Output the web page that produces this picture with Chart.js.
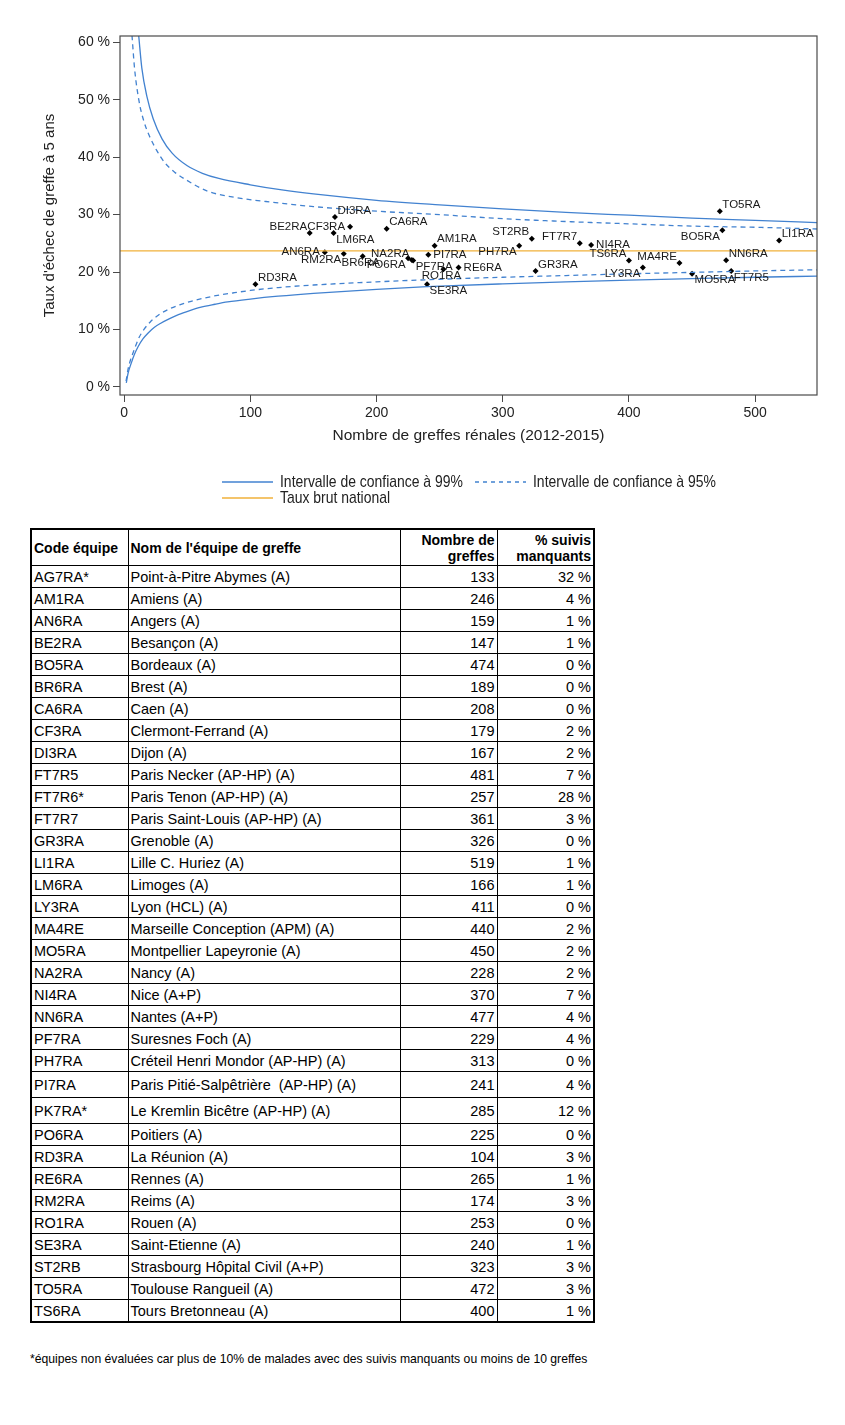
<!DOCTYPE html>
<html lang="fr">
<head>
<meta charset="UTF-8">
<title>Taux d'échec de greffe à 5 ans</title>
<script src="https://cdn.jsdelivr.net/npm/chart.js@4.4.1/dist/chart.umd.min.js"></script>
<style>
  body { margin: 0; background: #fff; font-family: "Liberation Sans", Arial, sans-serif; }
  #graphe { position: absolute; left: 0; top: 0; }
  #tableau { position: absolute; left: 30px; top: 528px; border-collapse: collapse; font-size: 14.5px; color: #000; border: 2px solid #000; }
  #tableau td, #tableau th { border: 1px solid #000; padding: 0 2px 0 2px; height: 21px; line-height: 16px; }
  #tableau th { font-weight: bold; height: 35px; vertical-align: middle; font-size: 14px; }
  #tableau th.g, #tableau td.g { text-align: left; }
  #tableau th.d, #tableau td.d { text-align: right; }
  #tableau td.nom { white-space: pre; }
  #tableau tr.haut td { height: 25px; }
  #note { position: absolute; left: 30px; top: 1352px; font-size: 12.2px; color: #000; }
</style>
</head>
<body>
<canvas id="graphe" width="845" height="515"></canvas>

<table id="tableau">
  <colgroup><col style="width:97px"><col style="width:272px"><col style="width:97px"><col style="width:97px"></colgroup>
  <thead>
    <tr>
      <th class="g">Code équipe</th>
      <th class="g">Nom de l'équipe de greffe</th>
      <th class="d">Nombre de<br>greffes</th>
      <th class="d">% suivis<br>manquants</th>
    </tr>
  </thead>
  <tbody></tbody>
</table>
<div id="note">*équipes non évaluées car plus de 10% de malades avec des suivis manquants ou moins de 10 greffes</div>

<script>
// Tableau des équipes
const teamCodes = ['AG7RA*', 'AM1RA', 'AN6RA', 'BE2RA', 'BO5RA', 'BR6RA', 'CA6RA', 'CF3RA', 'DI3RA', 'FT7R5',
  'FT7R6*', 'FT7R7', 'GR3RA', 'LI1RA', 'LM6RA', 'LY3RA', 'MA4RE', 'MO5RA', 'NA2RA', 'NI4RA',
  'NN6RA', 'PF7RA', 'PH7RA', 'PI7RA', 'PK7RA*', 'PO6RA', 'RD3RA', 'RE6RA', 'RM2RA', 'RO1RA',
  'SE3RA', 'ST2RB', 'TO5RA', 'TS6RA'];
const teamNames = ['Point-à-Pitre Abymes (A)', 'Amiens (A)', 'Angers (A)', 'Besançon (A)', 'Bordeaux (A)',
  'Brest (A)', 'Caen (A)', 'Clermont-Ferrand (A)', 'Dijon (A)', 'Paris Necker (AP-HP) (A)',
  'Paris Tenon (AP-HP) (A)', 'Paris Saint-Louis (AP-HP) (A)', 'Grenoble (A)', 'Lille C. Huriez (A)', 'Limoges (A)',
  'Lyon (HCL) (A)', 'Marseille Conception (APM) (A)', 'Montpellier Lapeyronie (A)', 'Nancy (A)', 'Nice (A+P)',
  'Nantes (A+P)', 'Suresnes Foch (A)', 'Créteil Henri Mondor (AP-HP) (A)', 'Paris Pitié-Salpêtrière  (AP-HP) (A)', 'Le Kremlin Bicêtre (AP-HP) (A)',
  'Poitiers (A)', 'La Réunion (A)', 'Rennes (A)', 'Reims (A)', 'Rouen (A)',
  'Saint-Etienne (A)', 'Strasbourg Hôpital Civil (A+P)', 'Toulouse Rangueil (A)', 'Tours Bretonneau (A)'];
const teamGreffes = [133, 246, 159, 147, 474, 189, 208, 179, 167, 481,
  257, 361, 326, 519, 166, 411, 440, 450, 228, 370,
  477, 229, 313, 241, 285, 225, 104, 265, 174, 253,
  240, 323, 472, 400];
const teamManquants = [32, 4, 1, 1, 0, 0, 0, 2, 2, 7,
  28, 3, 0, 1, 1, 0, 2, 2, 2, 7,
  4, 4, 0, 4, 12, 0, 3, 1, 3, 0,
  1, 3, 3, 1];

// Taux d'échec (%)
const pointCodes = ['DI3RA', 'CF3RA', 'BE2RA', 'LM6RA', 'AN6RA', 'RM2RA', 'BR6RA', 'RD3RA', 'CA6RA', 'AM1RA',
  'PI7RA', 'NA2RA', 'PO6RA', 'PF7RA', 'RO1RA', 'RE6RA', 'SE3RA', 'PH7RA', 'ST2RB', 'FT7R7',
  'NI4RA', 'TS6RA', 'LY3RA', 'MA4RE', 'GR3RA', 'TO5RA', 'BO5RA', 'LI1RA', 'NN6RA', 'MO5RA', 'FT7R5'];
const pointRates = [29.6, 27.9, 26.8, 26.8, 23.45, 23.2, 22.75, 17.9, 27.55, 24.6,
  23.0, 22.1, 22.4, 22.0, 20.5, 20.8, 17.9, 24.6, 25.8, 25.0,
  24.7, 22.0, 20.8, 21.6, 20.2, 30.6, 27.3, 25.5, 22.05, 19.7, 20.2];

const nationalRate = 23.7;

// Limites de confiance (nombre de greffes / %)
const upper99N = [11.5, 14, 18, 23, 30, 38, 50, 62, 75, 100, 125, 150, 200, 250, 300, 350, 400, 450, 500, 549];
const upper99 = [61.2, 55.5, 50.6, 46.7, 43.2, 40.7, 38.5, 37.2, 36.3, 35.2, 34.3, 33.6, 32.5, 31.7, 31.0, 30.4, 29.9, 29.4, 29.0, 28.6];
const upper95N = [6.2, 8.3, 12, 16, 20, 26, 32, 40, 48, 66, 88, 120, 150, 200, 250, 300, 350, 400, 450, 500, 549];
const upper95 = [61.2, 55.3, 49.5, 46.0, 43.7, 41.1, 39.1, 37.4, 36.2, 34.1, 33.0, 32.1, 31.4, 30.6, 30.0, 29.3, 28.8, 28.4, 28.0, 27.8, 27.5];
const lower99N = [1.7, 3, 5.7, 8, 11, 15, 19, 24, 29, 36, 43, 52, 61, 72, 82, 100, 122, 150, 200, 240, 300, 350, 400, 450, 500, 549];
const lower99 = [0.7, 2.3, 4.2, 5.6, 7.0, 8.4, 9.4, 10.4, 11.1, 11.9, 12.6, 13.3, 13.9, 14.4, 14.8, 15.3, 15.8, 16.3, 17.0, 17.45, 17.95, 18.3, 18.6, 18.85, 19.1, 19.3];
const lower95N = [1.5, 3, 5, 7, 9.5, 12, 16, 21, 27, 35, 44, 53, 63, 74, 87, 100, 122, 150, 200, 250, 300, 350, 400, 450, 500, 549];
const lower95 = [1.0, 3.0, 4.7, 5.9, 7.4, 8.7, 10.1, 11.4, 12.5, 13.5, 14.3, 14.9, 15.45, 15.95, 16.4, 16.8, 17.3, 17.75, 18.3, 18.75, 19.1, 19.4, 19.7, 19.95, 20.2, 20.4];

const xTicks = [0, 100, 200, 300, 400, 500];
const yTicks = [0, 10, 20, 30, 40, 50, 60];

// placement des étiquettes autour des points
const labelPlacement = {
  DI3RA: 'ne', CF3RA: 'w', BE2RA: 'nw', LM6RA: 'se', AN6RA: 'w', RM2RA: 'sw', BR6RA: 's', RD3RA: 'ne',
  CA6RA: 'ne', AM1RA: 'ne', PI7RA: 'e', NA2RA: 'nw', PO6RA: 'sw', PF7RA: 'se', RO1RA: 's', RE6RA: 'e',
  SE3RA: 'se', PH7RA: 'sw', ST2RB: 'nw', FT7R7: 'nw', NI4RA: 'e', TS6RA: 'nw', LY3RA: 'sw', MA4RE: 'nw',
  GR3RA: 'ne', TO5RA: 'ne', BO5RA: 'sw', LI1RA: 'ne', NN6RA: 'ne', MO5RA: 'se', FT7R5: 'se'
};

// remplir le tableau
const tbody = document.querySelector('#tableau tbody');
teamCodes.forEach((code, i) => {
  const tr = document.createElement('tr');
  if (code === 'PI7RA' || code === 'PK7RA*') tr.className = 'haut';
  tr.innerHTML = '<td class="g">' + code + '</td><td class="g nom">' + teamNames[i] + '</td>' +
    '<td class="d">' + teamGreffes[i] + '</td><td class="d">' + teamManquants[i] + ' %</td>';
  tbody.appendChild(tr);
});

const BLUE = '#4282d0';
const ORANGE = '#f1b13a';
const AXIS = '#4a4a4a';
const X_MIN = -3.3, X_MAX = 549;

const toXY = (xs, ys) => xs.map((x, i) => ({ x: x, y: ys[i] }));
const curve = (label, xs, ys, dashed) => ({
  type: 'line', label: label, data: toXY(xs, ys),
  borderColor: BLUE, borderWidth: 1.3, borderDash: dashed ? [5, 4] : [],
  pointRadius: 0, cubicInterpolationMode: 'monotone', fill: false
});

const points = pointCodes.map((code, i) => ({
  x: teamGreffes[teamCodes.indexOf(code)], y: pointRates[i], code: code
}));

// cadre autour de la zone de tracé
const framePlugin = {
  id: 'frame',
  afterDraw(chart) {
    const { ctx, chartArea: a } = chart;
    ctx.save();
    ctx.strokeStyle = AXIS;
    ctx.lineWidth = 1.2;
    ctx.strokeRect(a.left, a.top, a.right - a.left, a.bottom - a.top);
    ctx.restore();
  }
};

// étiquettes des équipes
const pointLabels = {
  id: 'pointLabels',
  afterDatasetsDraw(chart) {
    const ctx = chart.ctx;
    const meta = chart.getDatasetMeta(chart.data.datasets.length - 1);
    ctx.save();
    ctx.font = '11.5px "Liberation Sans", Arial, sans-serif';
    ctx.fillStyle = '#1a1a1a';
    ctx.textBaseline = 'middle';
    meta.data.forEach((el, i) => {
      const code = points[i].code;
      const pos = labelPlacement[code] || 'ne';
      let dx = 2.5, dy = -6.5, align = 'left';
      if (pos === 'nw') { dx = -2.5; align = 'right'; }
      if (pos === 'se') { dy = 6.5; }
      if (pos === 'sw') { dx = -2.5; dy = 6.5; align = 'right'; }
      if (pos === 'e') { dx = 5; dy = 0; }
      if (pos === 'w') { dx = -5; dy = 0; align = 'right'; }
      if (pos === 's') { dx = -2; dy = 7; align = 'center'; }
      ctx.textAlign = align;
      ctx.fillText(code, el.x + dx, el.y + dy);
    });
    ctx.restore();
  }
};

// légende sous le graphique (police étroite simulée)
const legendPlugin = {
  id: 'customLegend',
  afterDraw(chart) {
    const ctx = chart.ctx;
    const items = [
      { x: 222, y: 482, color: BLUE, dash: [], text: 'Intervalle de confiance à 99%' },
      { x: 475, y: 482, color: BLUE, dash: [4, 4], text: 'Intervalle de confiance à 95%' },
      { x: 222, y: 498, color: ORANGE, dash: [], text: 'Taux brut national' }
    ];
    ctx.save();
    ctx.font = '17px "Liberation Sans", Arial, sans-serif';
    ctx.textBaseline = 'middle';
    ctx.fillStyle = '#222';
    items.forEach(it => {
      ctx.beginPath();
      ctx.setLineDash(it.dash);
      ctx.strokeStyle = it.color;
      ctx.lineWidth = 1.3;
      ctx.moveTo(it.x, it.y);
      ctx.lineTo(it.x + 51, it.y);
      ctx.stroke();
      ctx.setLineDash([]);
      ctx.save();
      ctx.translate(it.x + 58, it.y + 0.5);
      ctx.scale(0.82, 1);
      ctx.fillText(it.text, 0, 0);
      ctx.restore();
    });
    ctx.restore();
  }
};

new Chart(document.getElementById('graphe'), {
  data: {
    datasets: [
      curve('Intervalle de confiance à 99%', upper99N, upper99, false),
      curve('Intervalle de confiance à 99%', lower99N, lower99, false),
      curve('Intervalle de confiance à 95%', upper95N, upper95, true),
      curve('Intervalle de confiance à 95%', lower95N, lower95, true),
      {
        type: 'line', label: 'Taux brut national',
        data: [{ x: X_MIN, y: nationalRate }, { x: X_MAX, y: nationalRate }],
        borderColor: ORANGE, borderWidth: 1.3, pointRadius: 0
      },
      {
        type: 'scatter', label: 'Équipes', data: points,
        pointStyle: 'rectRot', pointRadius: 3, pointHoverRadius: 3,
        backgroundColor: '#000', borderColor: '#000', borderWidth: 0
      }
    ]
  },
  options: {
    responsive: false,
    animation: false,
    layout: { padding: { left: 40, top: 36, right: 28, bottom: 60 } },
    plugins: { legend: { display: false }, tooltip: { enabled: false } },
    scales: {
      x: {
        type: 'linear', min: X_MIN, max: X_MAX,
        afterBuildTicks: axis => { axis.ticks = xTicks.map(v => ({ value: v })); },
        afterFit: axis => { axis.height = 60; },
        grid: { drawOnChartArea: false, drawTicks: true, tickLength: 7, color: AXIS },
        border: { display: false },
        ticks: { color: '#222', padding: 3, font: { family: '"Liberation Sans", Arial, sans-serif', size: 14 } },
        title: {
          display: true, text: 'Nombre de greffes rénales (2012-2015)', color: '#222',
          font: { family: '"Liberation Sans", Arial, sans-serif', size: 15.5 }, padding: { top: 0, bottom: 10 }
        }
      },
      y: {
        type: 'linear', min: -1.4, max: 61.1,
        afterBuildTicks: axis => { axis.ticks = yTicks.map(v => ({ value: v })); },
        afterFit: axis => { axis.width = 80; },
        grid: { drawOnChartArea: false, drawTicks: true, tickLength: 7, color: AXIS },
        border: { display: false },
        ticks: {
          color: '#222', padding: 3, font: { family: '"Liberation Sans", Arial, sans-serif', size: 14 },
          callback: v => v + ' %'
        },
        title: {
          display: true, text: "Taux d'échec de greffe à 5 ans", color: '#222',
          font: { family: '"Liberation Sans", Arial, sans-serif', size: 15 }, padding: { top: 1, bottom: 0 }
        }
      }
    }
  },
  plugins: [framePlugin, pointLabels, legendPlugin]
});
</script>
</body>
</html>
